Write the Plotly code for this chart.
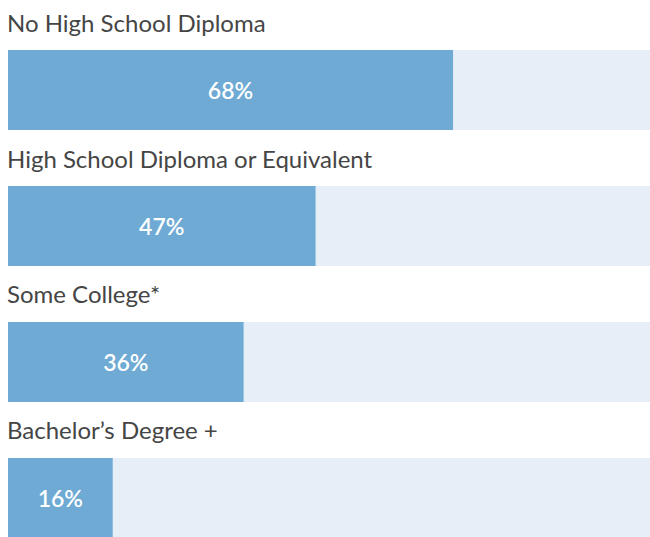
import plotly.graph_objects as go

categories = ["No High School Diploma", "High School Diploma or Equivalent",
              "Some College*", "Bachelor\u2019s Degree +"]
values = [68, 47, 36, 16]
totals = [100, 100, 100, 100]

FILL = "#6eaad4"
BG = "#e6eef7"
TXT = "#454545"

pos = list(range(len(categories)))

fig = go.Figure()
fig.add_trace(go.Bar(
    y=pos, x=totals, orientation="h", marker=dict(color=BG, line=dict(width=0)),
    width=0.588, hoverinfo="skip", showlegend=False,
))
fig.add_trace(go.Bar(
    y=pos, x=values, orientation="h", marker=dict(color=FILL, line=dict(width=0)),
    width=0.588, text=[f"{v}%" for v in values], textposition="inside",
    insidetextanchor="middle",
    textfont=dict(family="Lato", size=23, color="white", weight=600),
    showlegend=False,
))

for i, c in enumerate(categories):
    fig.add_annotation(x=0, y=i - 0.5, xref="x", yref="y", text=c, showarrow=False,
                       xanchor="left", yanchor="middle", xshift=-3,
                       font=dict(family="Lato", size=24, color=TXT))

fig.update_layout(
    width=650, height=537, barmode="overlay",
    margin=dict(l=8, r=0, t=8, b=0),
    paper_bgcolor="white", plot_bgcolor="white",
    xaxis=dict(range=[0, 98.1], visible=False, fixedrange=True),
    yaxis=dict(range=[3.287, -0.603], visible=False, fixedrange=True),
    uniformtext=dict(minsize=10, mode="show"),
)
fig.write_html(
    "out.html",
    config={"displayModeBar": False},
    post_script="document.body.style.margin='0';"
                "document.documentElement.style.overflow='hidden';"
                "document.body.style.overflow='hidden';",
)
